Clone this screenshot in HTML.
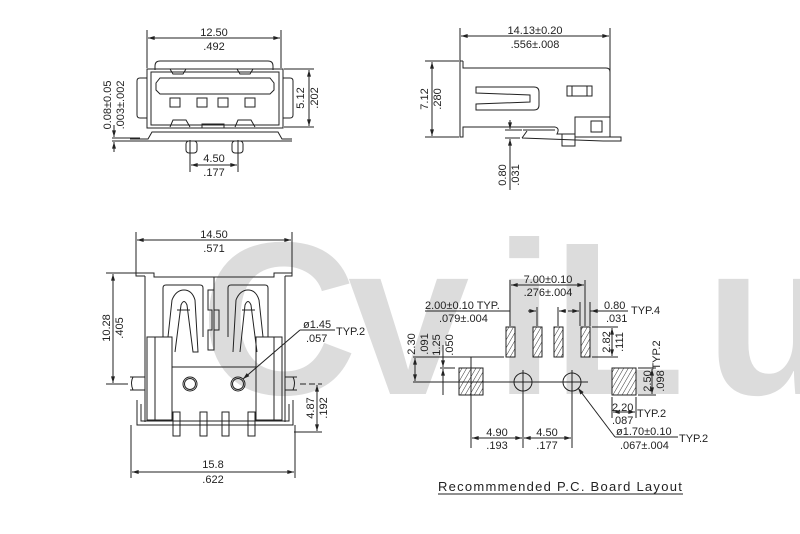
<!DOCTYPE html>
<html><head><meta charset="utf-8"><style>
html,body{margin:0;padding:0;background:#fff;}
svg{display:block;}
.t{font-family:"Liberation Sans",sans-serif;fill:#222;font-size:11px;}
.w{font-family:"Liberation Sans",sans-serif;font-weight:bold;fill:#dcdcdc;font-size:218px;}
</style></head><body>
<svg width="800" height="534" viewBox="0 0 800 534" xmlns="http://www.w3.org/2000/svg">
<defs>
<pattern id="h" width="4" height="4" patternUnits="userSpaceOnUse" patternTransform="rotate(30)">
<rect width="4" height="4" fill="#fff"/><line x1="0" y1="0" x2="0" y2="4" stroke="#333" stroke-width="1"/>
</pattern>
<marker id="a" viewBox="0 0 10 6" refX="10" refY="3" markerWidth="7" markerHeight="4" orient="auto-start-reverse"><path d="M0,0L10,3L0,6z" fill="#222"/></marker>
</defs>
<!-- watermark -->
<text class="w" x="200" y="394">C</text>
<text class="w" x="348" y="394">v</text>
<text class="w" x="494" y="394">i</text>
<text class="w" x="552" y="394">L</text>
<text class="w" x="705" y="394">u</text>

<g stroke="#222" stroke-width="1" fill="none">
<!-- TOP LEFT front view -->
<line x1="147" y1="30" x2="147" y2="68"/><line x1="281" y1="30" x2="281" y2="68"/>
<line x1="148" y1="38" x2="280" y2="38" marker-start="url(#a)" marker-end="url(#a)"/>
<path d="M155,70 L155,66 Q155,61 160,61 L268,61 Q273,61 273,66 L273,70"/>
<rect x="147" y="69" width="136" height="59"/>
<rect x="151" y="72" width="128" height="53"/>
<path d="M147,78 L140,78 Q137,78 137,81 L137,115 Q137,118 140,118 L147,118"/>
<path d="M283,78 L290,78 Q293,78 293,81 L293,115 Q293,118 290,118 L283,118"/>
<path d="M160,78 L270,78 L274,83 L274,90 L270,94 L160,94 L156,90 L156,83 Z"/>
<rect x="170" y="98" width="10" height="9"/><rect x="197" y="98" width="10" height="9"/>
<rect x="218" y="98" width="10" height="9"/><rect x="245" y="98" width="10" height="9"/>
<path d="M170,69 L173,74 L183,74 L186,69 M237,69 L240,74 L250,74 L253,69"/>
<path d="M170,127 L173,120 L186,120 L190,127 M235,127 L238,120 L251,120 L255,127"/>
<rect x="202" y="124" width="22" height="4"/>
<path d="M130,139 L148,139 L152,132 L278,132 L282,139 L292,139 M130,141 L292,141"/>
<rect x="186" y="141" width="11" height="12" rx="3"/><rect x="232" y="141" width="11" height="12" rx="3"/>
<line x1="190" y1="140" x2="190" y2="172"/><line x1="238" y1="140" x2="238" y2="172"/>
<line x1="191" y1="165" x2="237" y2="165" marker-start="url(#a)" marker-end="url(#a)"/>
<line x1="284" y1="69" x2="314" y2="69"/><line x1="284" y1="127" x2="314" y2="127"/>
<line x1="309" y1="70" x2="309" y2="126" marker-start="url(#a)" marker-end="url(#a)"/>
<line x1="112" y1="138" x2="140" y2="138"/><line x1="112" y1="141" x2="140" y2="141"/>
<line x1="114" y1="125" x2="114" y2="137" marker-end="url(#a)"/>
<line x1="114" y1="152" x2="114" y2="142" marker-end="url(#a)"/>

<!-- TOP RIGHT side view -->
<line x1="460" y1="28" x2="460" y2="61"/><line x1="610" y1="28" x2="610" y2="72"/>
<line x1="461" y1="36" x2="609" y2="36" marker-start="url(#a)" marker-end="url(#a)"/>
<path d="M463,61 L463,68 L606,68 Q610,68 610,72 L610,137 L621,137 L621,141 L603,141"/>
<path d="M463,61 L460,61 L460,137 L463,137 L463,127 L555,127"/>
<path d="M476,87 L534,87 Q539,87 539,92 L539,105 Q539,110 534,110 L476,110 L476,104 L530,102 L530,95 L476,93 Z"/>
<rect x="567" y="86" width="25" height="10"/><line x1="572" y1="86" x2="572" y2="96"/><line x1="587" y1="86" x2="587" y2="96"/>
<rect x="575" y="117" width="35" height="20"/><rect x="591" y="121" width="11" height="11"/>
<path d="M555,127 Q560,128 557,134 L575,134 M523,130 L555,130 M522,138 L527,131 M522,138 L603,141"/>
<path d="M562,134 L562,146 L575,146 L575,137"/>
<line x1="425" y1="61" x2="459" y2="61"/><line x1="425" y1="137" x2="459" y2="137"/>
<line x1="432" y1="62" x2="432" y2="136" marker-start="url(#a)" marker-end="url(#a)"/>
<line x1="505" y1="130" x2="522" y2="130"/><line x1="505" y1="138" x2="520" y2="138"/>
<line x1="510" y1="120" x2="510" y2="129" marker-end="url(#a)"/>
<line x1="510" y1="150" x2="510" y2="139" marker-end="url(#a)"/>
<line x1="510" y1="139" x2="510" y2="190"/>

<!-- BOTTOM LEFT top view -->
<line x1="136" y1="232" x2="136" y2="273"/><line x1="292" y1="232" x2="292" y2="273"/>
<line x1="137" y1="240" x2="291" y2="240" marker-start="url(#a)" marker-end="url(#a)"/>
<path d="M136,273 L154,273 L154,277 L274,277 L274,273 L292,273 L292,276 L285,276 M136,273 L136,276 L145,276"/>
<line x1="145" y1="276" x2="145" y2="422"/><line x1="285" y1="276" x2="285" y2="422"/>
<line x1="214" y1="277" x2="214" y2="337"/>
<path d="M163,337 L163,288 Q163,285 166,285 L200,285 Q203,285 203,288 L203,337"/>
<path d="M168,337 L172,300 Q176,290 184,290 Q192,290 195,300 L198,352 L193,352 L187,305 Q184,298 181,305 L175,352"/>
<path d="M228,337 L228,288 Q228,285 231,285 L265,285 Q268,285 268,288 L268,337"/>
<path d="M233,352 L236,300 Q240,290 248,290 Q256,290 259,300 L263,337 M257,352 L251,305 Q248,298 245,305 L240,352"/>
<line x1="177" y1="310" x2="190" y2="310"/><line x1="242" y1="310" x2="255" y2="310"/>
<path d="M208,290 L214,290 L214,310 L219,310 L219,330 L214,330 L214,350 L208,350 L208,330 L212,330 L212,310 L208,310 Z"/>
<rect x="147" y="337" width="25" height="83"/><rect x="256" y="337" width="26" height="83"/>
<line x1="155" y1="337" x2="155" y2="420"/><line x1="274" y1="337" x2="274" y2="420"/>
<line x1="172" y1="367" x2="256" y2="367"/>
<circle cx="190" cy="384" r="7"/><circle cx="190" cy="384" r="5.5"/>
<circle cx="238" cy="384" r="7"/><circle cx="238" cy="384" r="5.5"/>
<rect x="173" y="412" width="7" height="24"/><rect x="200" y="412" width="7" height="24"/>
<rect x="222" y="412" width="7" height="24"/><rect x="248" y="412" width="7" height="24"/>
<path d="M137,400 L137,425 L293,425 L293,400 M141,404 L141,421 L289,421 L289,404"/>
<path d="M130,377 L145,377 M130,390 L145,390 M285,377 L297,377 M285,390 L297,390"/>
<path d="M133,377 Q130,383 133,390 M293,377 Q296,383 293,390"/>
<line x1="106" y1="273" x2="136" y2="273"/><line x1="106" y1="384" x2="128" y2="384"/>
<line x1="113" y1="274" x2="113" y2="383" marker-start="url(#a)" marker-end="url(#a)"/>
<line x1="300" y1="384" x2="322" y2="384" stroke-dasharray="6 3"/><line x1="294" y1="432" x2="322" y2="432"/>
<line x1="317" y1="385" x2="317" y2="431" marker-start="url(#a)" marker-end="url(#a)"/>
<line x1="131" y1="425" x2="131" y2="478"/><line x1="295" y1="425" x2="295" y2="478"/>
<line x1="132" y1="472" x2="294" y2="472" marker-start="url(#a)" marker-end="url(#a)"/>
<line x1="243" y1="379" x2="300" y2="330" marker-start="url(#a)"/><line x1="300" y1="330" x2="335" y2="330"/>

<!-- PCB layout -->
<rect x="506" y="327" width="9" height="30" fill="url(#h)"/>
<rect x="533" y="327" width="9" height="30" fill="url(#h)"/>
<rect x="554" y="327" width="9" height="30" fill="url(#h)"/>
<rect x="581" y="327" width="9" height="30" fill="url(#h)"/>
<rect x="459" y="368" width="24" height="27" fill="url(#h)"/>
<rect x="612" y="368" width="24" height="27" fill="url(#h)"/>
<circle cx="523" cy="382" r="9"/><circle cx="572" cy="382" r="9"/>
<line x1="413" y1="382" x2="588" y2="382"/>
<line x1="523" y1="370" x2="523" y2="394"/><line x1="572" y1="370" x2="572" y2="394"/>
<line x1="471" y1="357" x2="471" y2="448"/><line x1="523" y1="394" x2="523" y2="448"/><line x1="572" y1="394" x2="572" y2="448"/>
<line x1="472" y1="438" x2="522" y2="438" marker-start="url(#a)" marker-end="url(#a)"/>
<line x1="524" y1="438" x2="571" y2="438" marker-start="url(#a)" marker-end="url(#a)"/>
<line x1="510" y1="280" x2="510" y2="326"/><line x1="585" y1="280" x2="585" y2="326"/>
<line x1="511" y1="285" x2="584" y2="285" marker-start="url(#a)" marker-end="url(#a)"/>
<line x1="425" y1="311" x2="510" y2="311"/>
<line x1="537" y1="307" x2="537" y2="326"/><line x1="558" y1="307" x2="558" y2="326"/>
<line x1="528" y1="311" x2="536" y2="311" marker-end="url(#a)"/><line x1="566" y1="311" x2="559" y2="311" marker-end="url(#a)"/>
<line x1="580" y1="302" x2="580" y2="326"/><line x1="590" y1="302" x2="590" y2="326"/>
<line x1="568" y1="311" x2="579" y2="311" marker-end="url(#a)"/><line x1="603" y1="311" x2="591" y2="311" marker-end="url(#a)"/><line x1="590" y1="311" x2="628" y2="311"/>
<line x1="592" y1="327" x2="618" y2="327"/><line x1="592" y1="357" x2="618" y2="357"/>
<line x1="612" y1="328" x2="612" y2="356" marker-start="url(#a)" marker-end="url(#a)"/>
<line x1="413" y1="357" x2="504" y2="357"/><line x1="440" y1="368" x2="455" y2="368"/>
<line x1="415" y1="358" x2="415" y2="381" marker-start="url(#a)" marker-end="url(#a)"/>
<line x1="443" y1="345" x2="443" y2="367" marker-end="url(#a)"/>
<line x1="443" y1="395" x2="443" y2="369" marker-end="url(#a)"/>
<line x1="638" y1="368" x2="656" y2="368"/><line x1="638" y1="395" x2="656" y2="395"/>
<line x1="652" y1="369" x2="652" y2="394" marker-start="url(#a)" marker-end="url(#a)"/>
<line x1="612" y1="397" x2="612" y2="418"/><line x1="636" y1="397" x2="636" y2="418"/>
<line x1="613" y1="412" x2="635" y2="412" marker-start="url(#a)" marker-end="url(#a)"/>
<line x1="578" y1="388" x2="615" y2="437" marker-start="url(#a)"/><line x1="615" y1="437" x2="678" y2="437"/>
<line x1="438" y1="494" x2="683" y2="494"/>
</g>

<g class="t">
<text x="214" y="36" text-anchor="middle" class="t">12.50</text>
<text x="214" y="50" text-anchor="middle" class="t">.492</text>
<text x="214" y="162" text-anchor="middle" class="t">4.50</text>
<text x="214" y="176" text-anchor="middle" class="t">.177</text>
<text class="t" transform="translate(304,98) rotate(-90)" text-anchor="middle">5.12</text>
<text class="t" transform="translate(318,98) rotate(-90)" text-anchor="middle">.202</text>
<text class="t" transform="translate(111,105) rotate(-90)" text-anchor="middle">0.08±0.05</text>
<text class="t" transform="translate(124,105) rotate(-90)" text-anchor="middle">.003±.002</text>
<text x="535" y="34" text-anchor="middle" class="t">14.13±0.20</text>
<text x="535" y="48" text-anchor="middle" class="t">.556±.008</text>
<text class="t" transform="translate(428,99) rotate(-90)" text-anchor="middle">7.12</text>
<text class="t" transform="translate(441,99) rotate(-90)" text-anchor="middle">.280</text>
<text class="t" transform="translate(506,175) rotate(-90)" text-anchor="middle">0.80</text>
<text class="t" transform="translate(519,175) rotate(-90)" text-anchor="middle">.031</text>
<text x="214" y="238" text-anchor="middle" class="t">14.50</text>
<text x="214" y="252" text-anchor="middle" class="t">.571</text>
<text class="t" transform="translate(110,328) rotate(-90)" text-anchor="middle">10.28</text>
<text class="t" transform="translate(123,328) rotate(-90)" text-anchor="middle">.405</text>
<text class="t" transform="translate(314,408) rotate(-90)" text-anchor="middle">4.87</text>
<text class="t" transform="translate(327,408) rotate(-90)" text-anchor="middle">.192</text>
<text x="213" y="468" text-anchor="middle" class="t">15.8</text>
<text x="213" y="483" text-anchor="middle" class="t">.622</text>
<text x="303" y="328" class="t">ø1.45</text>
<text x="306" y="342" class="t">.057</text>
<text x="336" y="335" class="t">TYP.2</text>
<text x="548" y="283" text-anchor="middle" class="t">7.00±0.10</text>
<text x="548" y="296" text-anchor="middle" class="t">.276±.004</text>
<text x="425" y="309" class="t">2.00±0.10  TYP.</text>
<text x="439" y="322" class="t">.079±.004</text>
<text x="604" y="309" class="t">0.80</text>
<text x="606" y="322" class="t">.031</text>
<text x="631" y="314" class="t">TYP.4</text>
<text class="t" transform="translate(415,344) rotate(-90)" text-anchor="middle">2.30</text>
<text class="t" transform="translate(428,344) rotate(-90)" text-anchor="middle">.091</text>
<text class="t" transform="translate(440,345) rotate(-90)" text-anchor="middle">1.25</text>
<text class="t" transform="translate(453,345) rotate(-90)" text-anchor="middle">.050</text>
<text class="t" transform="translate(610,342) rotate(-90)" text-anchor="middle">2.82</text>
<text class="t" transform="translate(623,342) rotate(-90)" text-anchor="middle">.111</text>
<text class="t" transform="translate(660,355) rotate(-90)" text-anchor="middle">TYP.2</text>
<text class="t" transform="translate(651,381) rotate(-90)" text-anchor="middle">2.50</text>
<text class="t" transform="translate(664,381) rotate(-90)" text-anchor="middle">.098</text>
<text x="612" y="411" class="t">2.20</text>
<text x="612" y="424" class="t">.087</text>
<text x="637" y="417" class="t">TYP.2</text>
<text x="616" y="435" class="t">ø1.70±0.10</text>
<text x="620" y="449" class="t">.067±.004</text>
<text x="679" y="442" class="t">TYP.2</text>
<text x="497" y="436" text-anchor="middle" class="t">4.90</text>
<text x="497" y="449" text-anchor="middle" class="t">.193</text>
<text x="547" y="436" text-anchor="middle" class="t">4.50</text>
<text x="547" y="449" text-anchor="middle" class="t">.177</text>
<text x="438" y="491" class="t" style="font-size:13px;letter-spacing:1.2px" textLength="245">Recommmended  P.C.  Board  Layout</text>
</g>
</svg>
</body></html>
